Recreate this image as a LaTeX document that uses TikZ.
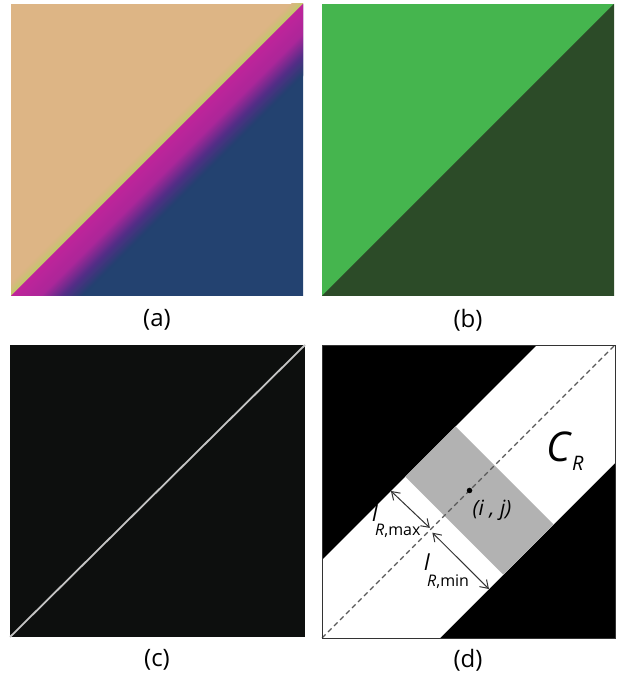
\documentclass[tikz,border=0pt]{standalone}
\usepackage{fontspec}
\setmainfont{Open Sans}
\usetikzlibrary{arrows.meta,calc}
\definecolor{sand}{HTML}{DDB585}
\definecolor{limeedge}{HTML}{C4C86C}
\definecolor{bandmag}{HTML}{C4249C}
\definecolor{bandmagb}{HTML}{B0269B}
\definecolor{bandpurple}{HTML}{552D88}
\definecolor{deepnavy}{HTML}{234270}
\definecolor{leafgreen}{HTML}{45B54E}
\definecolor{darkleaf}{HTML}{2C4B28}
\definecolor{nearblack}{HTML}{0D0F0E}
\definecolor{ridgegrey}{HTML}{C4C4C4}
\definecolor{patchgrey}{HTML}{B2B2B2}
\definecolor{arrowgrey}{HTML}{333333}
% thin strips parallel to the diagonal: offsets #1..#2, colours #3 -> #4, #5 steps
\newcommand{\diagstrips}[5]{%
  \foreach \k in {1,...,#5}{%
    \pgfmathsetmacro{\ca}{#1+(#2-#1)*(\k-1)/#5}%
    \pgfmathsetmacro{\cb}{#1+(#2-#1)*\k/#5+0.5}%
    \pgfmathtruncatemacro{\pc}{100*(\k-0.5)/#5}%
    \fill[#4!\pc!#3] (\ca-12,-12) -- (\cb-12,-12) -- (\sq+12,\sq+12-\cb) -- (\sq+12,\sq+12-\ca) -- cycle;
  }}

\begin{document}
\begin{tikzpicture}[x=1pt,y=1pt,
  caption/.style={font=\fontsize{24}{24}\selectfont},
  dimarrow/.style={{Straight Barb[length=7.5pt,width=10pt]}-{Straight Barb[length=7.5pt,width=10pt]},draw=arrowgrey,line width=1pt},
  sym/.style={font=\fontsize{22}{22}\selectfont\itshape,inner sep=0pt},
  subsym/.style={font=\fontsize{16}{16}\selectfont,inner sep=0pt,anchor=base west}]
  \useasboundingbox (0,0) rectangle (616,680);

  % (a) gradient map
  \begin{scope}[shift={(11,384)}]
    \def\sq{292}
    \clip (0,0) rectangle (\sq,\sq);
    \fill[sand] (0,0) rectangle (\sq,\sq);
    \fill[deepnavy] (0,0) -- (\sq,0) -- (\sq,\sq) -- cycle;
    \diagstrips{-12}{0}{sand}{limeedge}{12}
    \diagstrips{0}{30}{bandmag}{bandmagb}{30}
    \diagstrips{30}{52}{bandmagb}{bandpurple}{22}
    \diagstrips{52}{72}{bandpurple}{deepnavy}{20}
  \end{scope}
  \node[caption] (capa) at (157,360) {(a)};

  % (b) two regions
  \begin{scope}[shift={(322,384)}]
    \fill[leafgreen] (0,0) rectangle (292,292);
    \fill[darkleaf] (0,0) -- (292,0) -- (292,292) -- cycle;
  \end{scope}
  \node[caption] (capb) at (468,360) {(b)};

  % (c) ridge line
  \fill[nearblack] (10,43) rectangle (305,335);
  \draw[ridgegrey,line width=1.8pt] (10,43) -- (305,335);
  \node[caption] (capc) at (157,20) {(c)};

  % (d) band around the ridge
  \begin{scope}[shift={(322,42)}]
    \fill[black] (0,0) rectangle (293,293);
    \fill[white] (0,0) -- (0,78) -- (215,293) -- (293,293) -- (293,175) -- (118,0) -- cycle;
    \begin{scope}[rotate=45]
      \fill[patchgrey] (173,-83.4) rectangle (244,55.2);
      \coordinate (maxtop) at (152.7,55.2);
      \coordinate (maxbot) at (154.1,1.6);
      \coordinate (mintop) at (152.5,-3.6);
      \coordinate (minbot) at (152.7,-83.4);
      \coordinate (ij) at (208.6,0);
    \end{scope}
    \draw[black!65,line width=1.1pt,dash pattern=on 5pt off 3.5pt] (0,0) -- (293,293);
    \node[circle,fill=black,inner sep=0pt,minimum size=5.5pt] (ijdot) at (ij) {};
    \draw[dimarrow] (maxtop) -- (maxbot);
    \draw[dimarrow] (mintop) -- (minbot);
    \draw[arrowgrey,line width=0.8pt] (0,0) rectangle (293,293);
  \end{scope}
  % Labels
  \node[anchor=base west,inner sep=0pt,font=\fontsize{41}{41}\selectfont] (cr) at (546,218)
    {\textit{C}\raisebox{-9pt}{\fontsize{20}{20}\selectfont\textit{R}}};
  \node[font=\fontsize{21}{21}\selectfont\itshape] (ijlabel) at (492,170) {(i , j)};
  \node[sym] (lmax) at (375,167) {l};
  \node[subsym] (lmaxsub) at (375,144) {\textit{R},max};
  \node[sym] (lmin) at (427,118) {l};
  \node[subsym] (lminsub) at (427,93) {\textit{R},min};
  \node[caption] (capd) at (468,20) {(d)};
\end{tikzpicture}
\end{document}
